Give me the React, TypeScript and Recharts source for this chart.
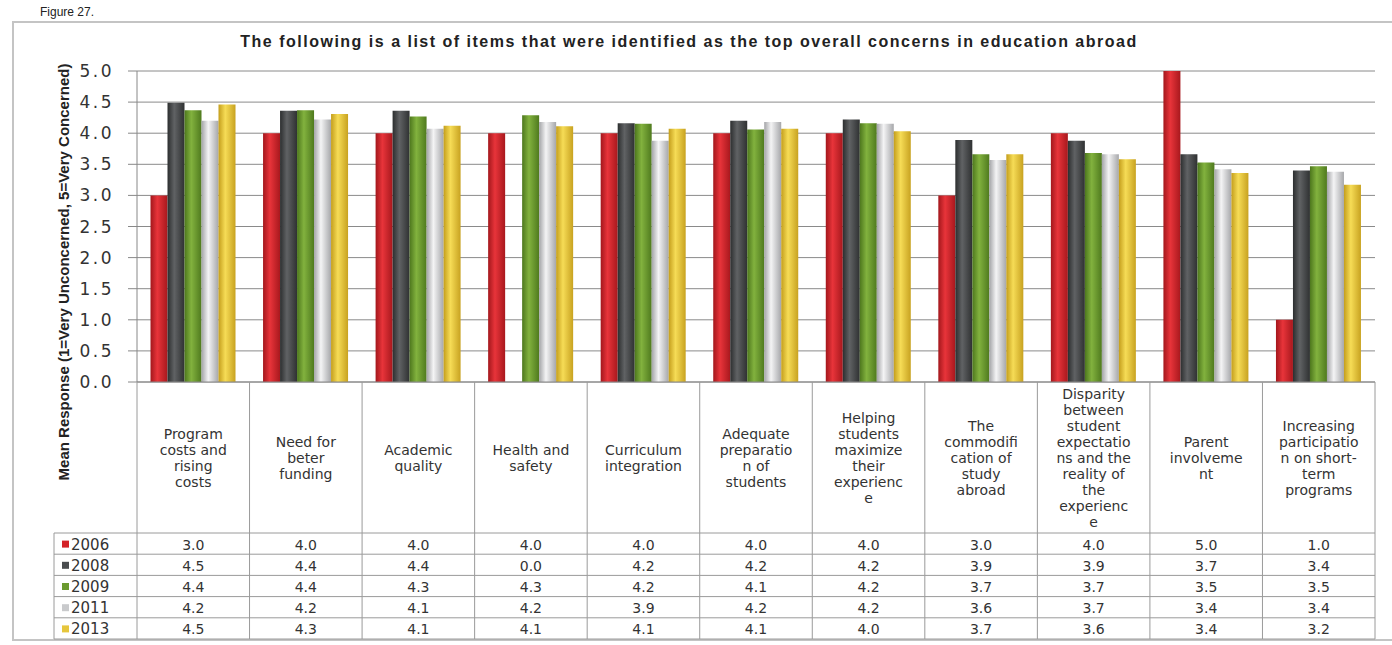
import React from 'react';
import { BarChart, Bar, XAxis, YAxis, CartesianGrid } from 'recharts';

// wrapped labels as they appear in the table header
const categoryLines: string[][] = [
  ['Program', 'costs and', 'rising', 'costs'],
  ['Need for', 'beter', 'funding'],
  ['Academic', 'quality'],
  ['Health and', 'safety'],
  ['Curriculum', 'integration'],
  ['Adequate', 'preparatio', 'n of', 'students'],
  ['Helping', 'students', 'maximize', 'their', 'experienc', 'e'],
  ['The', 'commodifi', 'cation of', 'study', 'abroad'],
  ['Disparity', 'between', 'student', 'expectatio', 'ns and the', 'reality of', 'the', 'experienc', 'e'],
  ['Parent', 'involveme', 'nt'],
  ['Increasing', 'participatio', 'n on short-', 'term', 'programs'],
];

const years = ['2006', '2008', '2009', '2011', '2013'];

const v2006 = [3.0, 4.0, 4.0, 4.0, 4.0, 4.0, 4.0, 3.0, 4.0, 5.0, 1.0];
const v2008 = [4.49, 4.36, 4.36, 0, 4.16, 4.2, 4.22, 3.89, 3.88, 3.66, 3.4];
const v2009 = [4.37, 4.37, 4.27, 4.29, 4.15, 4.06, 4.16, 3.66, 3.68, 3.53, 3.47];
const v2011 = [4.2, 4.22, 4.07, 4.18, 3.88, 4.18, 4.15, 3.57, 3.66, 3.42, 3.38];
const v2013 = [4.46, 4.31, 4.12, 4.11, 4.07, 4.07, 4.03, 3.66, 3.58, 3.36, 3.17];

const yTicks = [0, 0.5, 1, 1.5, 2, 2.5, 3, 3.5, 4, 4.5, 5];

const seriesValues = [v2006, v2008, v2009, v2011, v2013];
const colors = ['#d42228', '#4a4c4e', '#6b9a2f', '#c9cacc', '#e6c63c'];
const gradients = [
  ['#a3171c', '#e8343a', '#a8181d'],
  ['#2c2e2f', '#606264', '#2f3132'],
  ['#4d771d', '#82b23e', '#4f7a1e'],
  ['#a3a4a7', '#f4f4f5', '#a6a7aa'],
  ['#c49e1c', '#f6dc56', '#c8a220'],
];

const data = categoryLines.map((lines, i) => {
  const row: Record<string, any> = { name: lines.join(' ') };
  years.forEach((y, s) => (row[y] = seriesValues[s][i]));
  return row;
});

const W = 1392;
const H = 645;
const LEFT = 137;
const RIGHT = 17;
const TOP = 71;
const AXIS_H = 257;
const BAND = (W - LEFT - RIGHT) / categoryLines.length;
const FONT = '"DejaVu Sans", Arial, sans-serif';
const LINE = '#9a9a9a';

// header row height and data rows below it
const HEADER_H = 151;
const ROW_H = 21.2;

const TableCell = (props: any) => {
  const { x, y, payload } = props;
  const i = payload.index;
  const lines = categoryLines[i];
  const left = x - BAND / 2;
  const right = x + BAND / 2;
  const bottom = y + HEADER_H + ROW_H * years.length;
  const midY = y + 76;
  const lh = 16;
  const startY = midY - ((lines.length - 1) * lh) / 2;
  return (
    <g>
      <line x1={right} y1={y} x2={right} y2={bottom} stroke={LINE} />
      {i === 0 && <line x1={left} y1={y} x2={left} y2={bottom} stroke={LINE} />}
      {years.map((_, r) => (
        <line key={r} x1={left} x2={right} y1={y + HEADER_H + r * ROW_H} y2={y + HEADER_H + r * ROW_H} stroke={LINE} />
      ))}
      <line x1={left} x2={right} y1={bottom} y2={bottom} stroke={LINE} />
      {lines.map((t, k) => (
        <text key={k} x={x} y={startY + k * lh} textAnchor="middle" dominantBaseline="central"
          fontFamily={FONT} fontSize={14} fill="#333">{t}</text>
      ))}
      {years.map((_, r) => (
        <text key={'v' + r} x={x} y={y + HEADER_H + r * ROW_H + ROW_H / 2 + 1} textAnchor="middle"
          dominantBaseline="central" fontFamily={FONT} fontSize={14} fill="#333">
          {seriesValues[r][i].toFixed(1)}
        </text>
      ))}
      {i === 0 && (
        <g>
          {years.map((yr, r) => {
            const ry = y + HEADER_H + r * ROW_H;
            return (
              <g key={'l' + yr}>
                <line x1={54} x2={left} y1={ry} y2={ry} stroke={LINE} />
                <rect x={62} y={ry + ROW_H / 2 - 3} width={7} height={7} fill={colors[r]} />
                <text x={71} y={ry + ROW_H / 2 + 1} dominantBaseline="central" fontFamily={FONT}
                  fontSize={15} fill="#333">{yr}</text>
              </g>
            );
          })}
          <line x1={54} x2={left} y1={bottom} y2={bottom} stroke={LINE} />
          <line x1={54} x2={54} y1={y + HEADER_H} y2={bottom} stroke={LINE} />
        </g>
      )}
    </g>
  );
};

const YLabel = () => (
  <text
    transform="translate(63, 272) rotate(-90)"
    textAnchor="middle"
    dominantBaseline="central"
    fontFamily='"Liberation Sans Narrow", "Liberation Sans", Arial, sans-serif'
    fontWeight="bold"
    fontSize={15}
    fill="#222"
  >
    Mean Response (1=Very Unconcerned, 5=Very Concerned)
  </text>
);

export default function App() {
  return (
    <div style={{ position: 'absolute', left: 0, top: 0, width: W, height: H, background: '#fff', overflow: 'hidden' }}>
      <div style={{ position: 'absolute', left: 12, top: 21, width: 1400, height: 620, border: '2px solid #c4c4c4', boxSizing: 'border-box' }} />
      <div style={{ position: 'absolute', left: 40, top: 5, fontFamily: '"Liberation Sans Narrow", Arial, sans-serif', fontSize: 12, color: '#222' }}>
        Figure 27.
      </div>
      <div style={{ position: 'absolute', left: 0, top: 33, width: W - 14, textAlign: 'center', fontFamily: '"Liberation Sans", Arial, sans-serif', fontWeight: 'bold', fontSize: 16, letterSpacing: 1.5, color: '#222' }}>
        The following is a list of items that were identified as the top overall concerns in education abroad
      </div>
      <div style={{ position: 'absolute', left: 0, top: 0 }}>
        <BarChart width={W} height={H} data={data} margin={{ top: TOP, right: RIGHT, bottom: H - TOP - 311 - AXIS_H, left: 0 }}
          barCategoryGap="12%" barGap={0}>
          <defs>
            {gradients.map((g, i) => (
              <linearGradient key={i} id={'grad' + i} x1="0" y1="0" x2="1" y2="0">
                <stop offset="0%" stopColor={g[0]} />
                <stop offset="40%" stopColor={g[1]} />
                <stop offset="100%" stopColor={g[2]} />
              </linearGradient>
            ))}
          </defs>
          <CartesianGrid vertical={false} stroke="#8a8a8a" />
          <XAxis dataKey="name" interval={0} height={AXIS_H} tickLine={false} tickSize={0} tickMargin={0}
            axisLine={{ stroke: '#888' }} tick={<TableCell />} />
          <YAxis width={LEFT} domain={[0, 5]} ticks={yTicks} interval={0} tickSize={9} tickMargin={14}
            tickFormatter={(v: number) => v.toFixed(1)} axisLine={{ stroke: '#888' }} tickLine={{ stroke: '#888' }}
            tick={{ fontFamily: FONT, fontSize: 17, fill: '#333', letterSpacing: 2.5 }}
            label={<YLabel />} />
          {years.map((y, i) => (
            <Bar key={y} dataKey={y} fill={`url(#grad${i})`} isAnimationActive={false} />
          ))}
        </BarChart>
      </div>
    </div>
  );
}
